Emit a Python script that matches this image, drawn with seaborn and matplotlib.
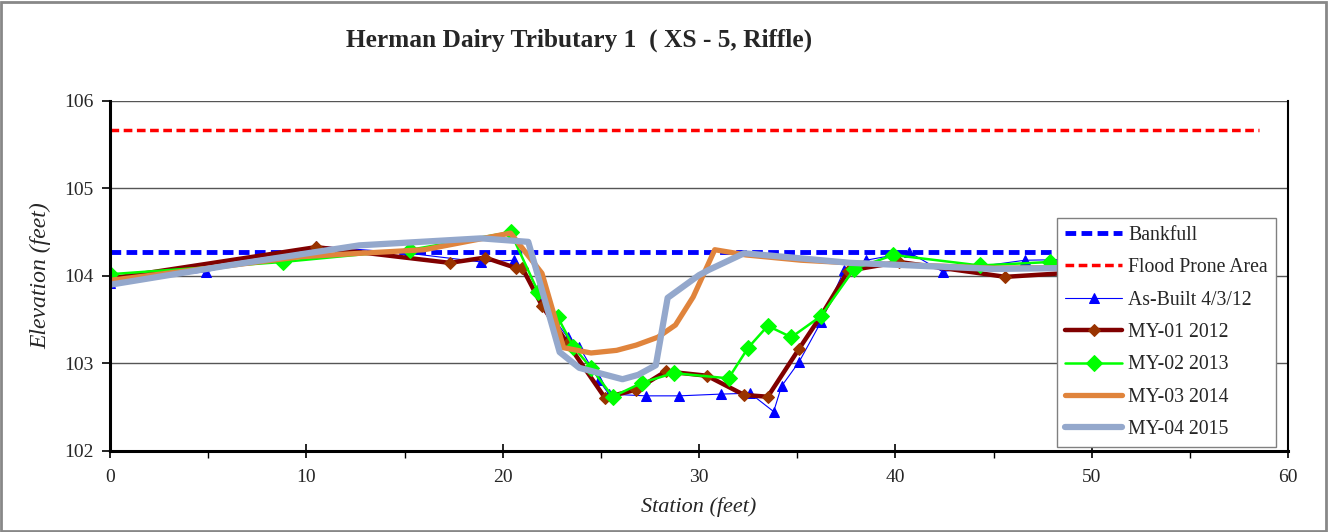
import numpy as np
import pandas as pd
import seaborn as sns
import matplotlib.pyplot as plt
from matplotlib.patches import Rectangle

# --- data ---
bankfull_x = [0, 58.5]
bankfull_y = [104.27, 104.27]
flood_x = [0, 58.5]
flood_y = [105.67, 105.67]

asbuilt_x = [0, 4.9, 10.5, 15.2, 18.9, 20.6, 22.0, 23.3, 23.9, 24.9, 25.4, 27.3, 29.0,
             31.1, 32.6, 33.8, 34.2, 35.1, 36.2, 37.4, 38.5, 40.7, 42.4, 46.6, 52.0]
asbuilt_y = [103.92, 104.05, 104.34, 104.26, 104.16, 104.18, 103.70, 103.30, 103.19, 102.81,
             102.65, 102.63, 102.63, 102.65, 102.66, 102.45, 102.74, 103.02, 103.47, 104.07,
             104.18, 104.27, 104.05, 104.18, 104.20]

my01_x = [0, 10.5, 17.3, 19.1, 20.7, 21.0, 22.0, 23.3, 25.2, 26.8, 28.3, 30.4, 32.3, 33.5,
          35.1, 36.2, 37.6, 40.2, 45.6, 52.0]
my01_y = [103.97, 104.33, 104.15, 104.21, 104.09, 104.09, 103.66, 103.23, 102.61, 102.70,
          102.91, 102.86, 102.64, 102.62, 103.17, 103.54, 104.06, 104.16, 103.99, 104.08]

my02_x = [0, 8.8, 15.3, 20.4, 21.8, 22.8, 23.6, 24.5, 25.6, 27.1, 28.7, 31.5, 32.5, 33.5,
          34.7, 36.2, 37.9, 39.9, 44.3, 47.9, 52.0]
my02_y = [104.02, 104.16, 104.30, 104.50, 103.82, 103.53, 103.19, 102.95, 102.62, 102.78,
          102.89, 102.83, 103.18, 103.43, 103.30, 103.54, 104.08, 104.24, 104.12, 104.16, 104.18]

my03_x = [0, 9.7, 12.8, 16.0, 20.4, 22.0, 23.1, 24.5, 25.8, 26.8, 27.9, 28.8, 29.7, 30.8,
          32.4, 35.2, 37.7, 45.0, 52.0]
my03_y = [103.95, 104.22, 104.26, 104.30, 104.49, 104.03, 103.18, 103.12, 103.15, 103.21,
          103.30, 103.44, 103.76, 104.30, 104.24, 104.18, 104.15, 104.09, 104.10]

my04_x = [0, 6.0, 12.7, 18.9, 21.3, 21.9, 22.9, 23.9, 26.1, 26.9, 27.8, 28.4, 30.0, 30.5,
          32.3, 37.7, 45.0, 52.0]
my04_y = [103.90, 104.12, 104.35, 104.43, 104.39, 103.92, 103.13, 102.95, 102.82, 102.87,
          102.98, 103.75, 104.01, 104.07, 104.26, 104.15, 104.08, 104.10]

sns.set_style("white")
plt.rcParams['font.family'] = ['Liberation Serif', 'DejaVu Serif']

fig = plt.figure(figsize=(13.29, 5.32), dpi=100)
ax = fig.add_axes([0.0828, 0.1523, 0.8864, 0.6579])

# grid lines
for yv in [103, 104, 105, 106]:
    ax.axhline(yv, color='#555555', lw=1.0, zorder=0)

sns.lineplot(x=bankfull_x, y=bankfull_y, ax=ax, color='#0000FF', lw=3.5,
             linestyle=(0, (2.2, 1.1)), label='Bankfull', sort=False)
sns.lineplot(x=flood_x, y=flood_y, ax=ax, color='#FF0000', lw=2.5,
             linestyle=(0, (2.5, 1.3)), label='Flood Prone Area', sort=False)
sns.lineplot(x=asbuilt_x, y=asbuilt_y, ax=ax, color='#0000FF', lw=0.8, marker='^',
             markersize=7, markeredgecolor='#0000FF', label='As-Built 4/3/12', sort=False)
sns.lineplot(x=my01_x, y=my01_y, ax=ax, color='#800000', lw=3.2, marker='D',
             markersize=6.5, markerfacecolor='#993300', markeredgecolor='#993300',
             label='MY-01 2012', sort=False)
sns.lineplot(x=my02_x, y=my02_y, ax=ax, color='#00FF00', lw=1.8, marker='D',
             markersize=8, markerfacecolor='#00FF00', markeredgecolor='#00FF00',
             label='MY-02 2013', sort=False)
sns.lineplot(x=my03_x, y=my03_y, ax=ax, color='#E0843C', lw=3.8,
             label='MY-03 2014', sort=False)
sns.lineplot(x=my04_x, y=my04_y, ax=ax, color='#94A8CC', lw=4.5,
             label='MY-04 2015', sort=False)

ax.set_xlim(0, 60)
ax.set_ylim(102, 106)
ax.set_xticks([0, 10, 20, 30, 40, 50, 60])
ax.set_xticks(np.arange(5, 60, 10), minor=True)
ax.set_yticks([102, 103, 104, 105, 106])
ax.tick_params(axis='both', which='major', labelsize=14, direction='out', length=6,
               width=1.2, color='black', pad=6)
ax.tick_params(axis='x', which='major', direction='inout', length=10, pad=8)
ax.tick_params(axis='x', which='minor', direction='out', length=5, width=1.0, color='black')
ax.tick_params(bottom=True, left=True, which='both')

for side in ['left', 'bottom']:
    ax.spines[side].set_color('black')
    ax.spines[side].set_linewidth(2.2)
ax.spines['right'].set_color('black')
ax.spines['right'].set_linewidth(1.5)
ax.spines['top'].set_visible(False)

ax.set_xlabel('Station (feet)', fontsize=16, style='italic', labelpad=8)
ax.set_ylabel('Elevation (feet)', fontsize=17, style='italic', labelpad=9)

leg = ax.legend(loc='lower right', bbox_to_anchor=(0.9895, 0.011), fontsize=14.2,
                frameon=True, fancybox=False, labelspacing=0.68, handlelength=2.9,
                handletextpad=0.3, borderpad=0.4, borderaxespad=0)
leg.get_frame().set_edgecolor('#808080')
leg.get_frame().set_linewidth(1.0)
leg.get_frame().set_alpha(1)

fig.text(0.436, 0.924, 'Herman Dairy Tributary 1  ( XS - 5, Riffle)', ha='center',
         va='center', fontsize=18.3, fontweight='bold')

fig.patches.append(Rectangle((0.001, 0.001), 0.997, 0.996, transform=fig.transFigure,
                             fill=False, edgecolor='#888888', lw=2))

fig.savefig('out.png', dpi=100)
